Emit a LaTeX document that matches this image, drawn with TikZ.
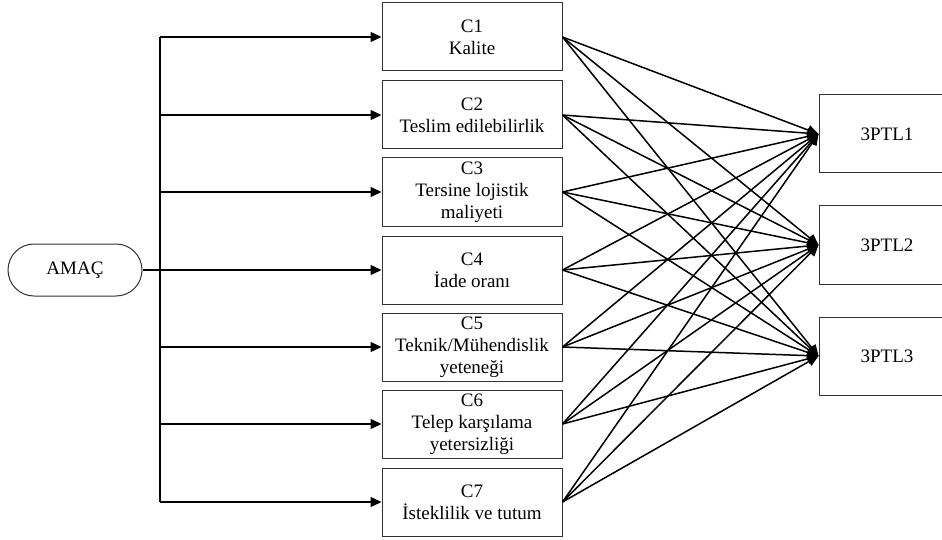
\documentclass[tikz,border=0pt]{standalone}
\usepackage{fontspec}
\setmainfont{Liberation Serif}
\usetikzlibrary{arrows.meta}
\begin{document}
\begin{tikzpicture}[x=1pt,y=-1pt,>={Triangle[length=11pt,width=10pt]},line width=1.5pt]
  \tikzset{
    critbox/.style={draw=black!80,line width=1pt,minimum width=180pt,minimum height=68pt,
      align=center,inner sep=1pt,font=\fontsize{19}{22}\selectfont},
    altbox/.style={draw=black!80,line width=1pt,minimum width=136pt,minimum height=78pt,
      font=\fontsize{19}{22}\selectfont},
    goalbox/.style={draw=black!80,line width=1pt,rounded corners=26pt,minimum width=134pt,
      minimum height=52pt,font=\fontsize{19}{22}\selectfont}
  }
  \clip (0,0) rectangle (942,540);
  % Goal
  \node[goalbox] (amac) at (75,270) {AMAÇ};
  % Criteria
  \foreach \i/\y/\txt in {1/37/{C1\\Kalite}, 2/115/{C2\\Teslim edilebilirlik},
      3/192/{C3\\Tersine lojistik\\maliyeti}, 4/270/{C4\\İade oranı},
      5/347/{C5\\Teknik/Mühendislik\\yeteneği}, 6/424/{C6\\Telep karşılama\\yetersizliği},
      7/502/{C7\\İsteklilik ve tutum}}{
    \node[critbox] (c\i) at (472,\y) {\txt};
  }
  % Alternatives
  \foreach \j/\y in {1/134, 2/245, 3/356}{
    \node[altbox] (ptl\j) at (887,\y) {3PTL\j};
  }
  % Trunk from the goal to every criterion
  \coordinate (trunktop) at (160,37);
  \coordinate (trunkbot) at (160,502);
  \draw (trunktop) -- (trunkbot);
  \draw[->] (amac) -- (c4);
  \foreach \i in {1,2,3,5,6,7}{
    \draw[->] (trunktop |- c\i.west) -- (c\i.west);
  }
  % Every criterion to every alternative
  \foreach \i in {1,...,7}{
    \foreach \j in {1,2,3}{
      \draw[->] (c\i.east) -- (ptl\j.west);
    }
  }
\end{tikzpicture}
\end{document}
